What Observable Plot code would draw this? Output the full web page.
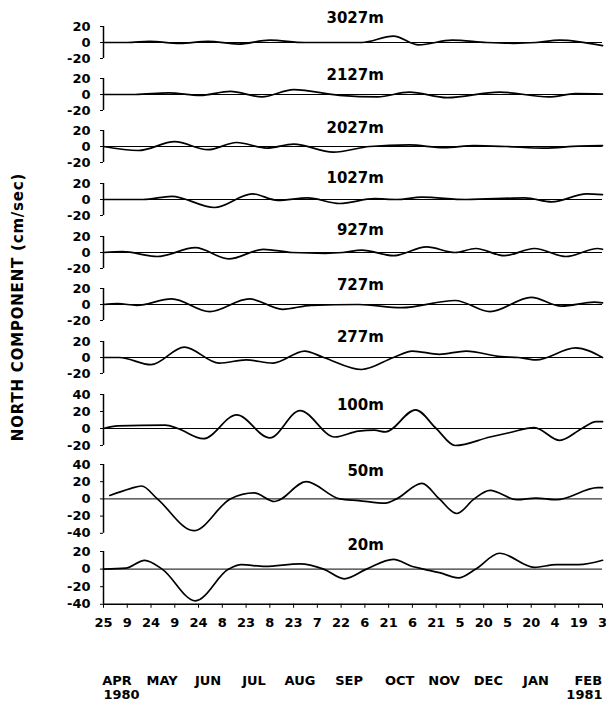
<!DOCTYPE html>
<html><head><meta charset="utf-8">
<script src="https://cdn.jsdelivr.net/npm/d3@7"></script>
<script src="https://cdn.jsdelivr.net/npm/@observablehq/plot@0.6"></script>
<style>
body{margin:0;background:#fff;}
#chart{position:relative;width:606px;height:708px;overflow:hidden;background:#fff;font-family:"DejaVu Sans",sans-serif;font-weight:bold;color:#000;}
#chart svg{position:absolute;left:0;overflow:visible;background:transparent !important;}
#ylabel{position:absolute;left:18px;top:307px;transform:translate(-50%,-50%) rotate(-90deg);white-space:nowrap;font-size:15px;letter-spacing:0.8px;}
</style></head><body>
<div id="chart"><div id="ylabel">NORTH COMPONENT (cm/sec)</div></div>
<script>
// ---- tick labels (days since 25 Apr 1980, every 15 days) ----
const tickDays = d3.range(0, 316, 15);
const tickLabels = ["25","9","24","9","24","8","23","8","23","7","22","6","21","6","21","5","20","5","20","4","19","3"];
const months = ["APR","MAY","JUN","JUL","AUG","SEP","OCT","NOV","DEC","JAN","FEB"];
const monthDays = [8.5, 37, 66, 95, 124, 155, 187, 215, 243, 273, 306];
const years = ["1980","1981"];

// ---- series: [day, cm/sec] ----
const depths = ["3027m","2127m","2027m","1027m","927m","727m","277m","100m","50m","20m"];
const s3027 = [[0,0],[15,0],[29,1.5],[48,-1],[66,1.5],[85,-2],[105,3],[127,0],[163,0],[183,8],[199,-3],[220,3],[242,0],[259,-1],[273,0],[288,3],[315,-4]];
const s2127 = [[0,0],[20,0],[41,2],[61,-1],[80,4],[100,-3],[120,6],[149,-1],[173,-3],[193,3],[217,-4],[250,3],[281,-3],[298,1],[315,0.5]];
const s2027 = [[0,0],[22,-5],[45,6],[66,-4],[84,5],[103,-2],[120,3],[145,-7],[168,0],[193,2],[215,-1.5],[234,1],[254,0],[278,-2],[300,0.5],[315,1]];
const s1027 = [[0,0],[25,0],[43,4],[70,-10],[94,7],[110,-1],[129,2],[149,-5],[171,1],[185,0],[201,3],[229,0],[266,2],[283,-3],[305,7],[315,6]];
const s927  = [[0,0],[12,1],[34,-5],[58,6],[79,-8],[101,4],[119,0],[140,-1],[151,0],[163,3],[183,-4],[204,7],[222,0],[235,5],[253,-4],[272,5],[292,-5],[312,5],[315,4]];
const s727  = [[0,0],[9,1],[21,-1],[43,7],[67,-9],[92,7],[113,-6],[131,-1],[161,0],[188,-4],[222,5],[244,-9],[270,9],[289,-2],[310,3],[315,2]];
const s277  = [[0,0],[10,0],[30,-9],[51,13],[73,-7],[90,-3],[107,-7],[127,8],[139,0],[163,-15],[183,0],[195,8],[212,4],[229,8],[251,1],[262,0],[273,-3],[298,12],[315,0]];
const s100  = [[0,0],[9,3],[39,4],[47,0],[63,-12],[84,16],[105,-11],[124,21],[146,-10],[161,-3],[171,-2],[178,-4],[197,22],[210,0],[222,-20],[244,-10],[256,-5],[272,1],[288,-14],[302,0],[311,8],[315,8]];
const s50   = [[4,4],[17,12],[24,15],[34,0],[57,-37],[80,0],[95,7],[108,-3],[128,20],[149,0],[161,-2],[178,-5],[185,0],[201,18],[212,0],[223,-17],[234,0],[244,10],[261,-1],[273,1],[286,-1],[312,13],[315,13]];
const s20   = [[0,0],[14,1],[26,10],[37,0],[58,-36],[79,0],[87,5],[102,3],[124,6],[139,0],[152,-11],[166,0],[183,11],[195,3],[202,0],[212,-4],[224,-10],[235,0],[250,18],[272,2],[286,5],[300,5],[315,10]];
const series = [s3027,s2127,s2027,s1027,s927,s727,s277,s100,s50,s20];

// ---- layout of each panel (pixel zero line, px per unit, domain, title offset) ----
const layout = [
  {zero:42,  k:0.8,  lo:-20, hi:20, ticks:[-20,0,20],        tdy:24},
  {zero:94,  k:0.8,  lo:-20, hi:20, ticks:[-20,0,20],        tdy:19},
  {zero:146, k:0.8,  lo:-20, hi:20, ticks:[-20,0,20],        tdy:18},
  {zero:199, k:0.8,  lo:-20, hi:20, ticks:[-20,0,20],        tdy:21},
  {zero:252, k:0.8,  lo:-20, hi:20, ticks:[-20,0,20],        tdy:22},
  {zero:304, k:0.8,  lo:-20, hi:20, ticks:[-20,0,20],        tdy:19},
  {zero:357, k:0.8,  lo:-20, hi:20, ticks:[-20,0,20],        tdy:20},
  {zero:428, k:0.85, lo:-20, hi:40, ticks:[-20,0,20,40],     tdy:23},
  {zero:498, k:0.86, lo:-40, hi:40, ticks:[-40,-20,0,20,40], tdy:28},
  {zero:569, k:0.88, lo:-40, hi:20, ticks:[-40,-20,0,20],    tdy:24}
];

const chart = document.getElementById("chart");
const font = {fontFamily:"DejaVu Sans, sans-serif", fontWeight:"bold", fontSize:"13px", background:"transparent", color:"#000", overflow:"visible"};

series.forEach((s, i) => {
  const L = layout[i];
  const last = i === series.length - 1;
  const mt = 40, mb = last ? 140 : 10;
  const data = s.map(([day, v]) => ({day, v}));
  const marks = [
    Plot.ruleY([0], {stroke:"#000", strokeWidth:1}),
    Plot.ruleX([0], {y1:L.lo, y2:L.hi, stroke:"#000", strokeWidth:1.5}),
    Plot.line(data, {x:"day", y:"v", curve:"monotone-x", stroke:"#000", strokeWidth:1.7}),
    Plot.text([depths[i]], {x:177, y:0, dy:-L.tdy, text:d=>d, textAnchor:"end", fontSize:15, fontWeight:"bold", letterSpacing:"0.5px"})
  ];
  if (last) {
    marks.push(
      Plot.ruleY([L.lo], {stroke:"#000", strokeWidth:1.5}),
      Plot.text(months, {x:(d,j)=>monthDays[j], frameAnchor:"bottom", dy:81, text:d=>d, fontSize:13, fontWeight:"bold"}),
      Plot.text([years[0]], {x:0, frameAnchor:"bottom", dy:95, text:d=>d, textAnchor:"start", fontSize:13, fontWeight:"bold"}),
      Plot.text([years[1]], {x:315, frameAnchor:"bottom", dy:95, text:d=>d, textAnchor:"end", fontSize:13, fontWeight:"bold"})
    );
  }
  const svg = Plot.plot({
    width:606, height: mt + (L.hi - L.lo) * L.k + mb,
    marginTop:mt, marginBottom:mb, marginLeft:103, marginRight:4,
    style:font,
    x:{domain:[0,315], axis: last ? "bottom" : null, ticks:tickDays, tickFormat:d=>tickLabels[Math.round(d/15)], tickSize:4, tickPadding:9, label:null, fontSize:14},
    y:{domain:[L.lo, L.hi], ticks:L.ticks, tickSize:3, tickPadding:10, label:null, tickFormat:d=>String(d)},
    marks
  });
  svg.style.top = (L.zero - L.hi * L.k - mt) + "px";
  chart.appendChild(svg);
});
</script>
</body></html>
